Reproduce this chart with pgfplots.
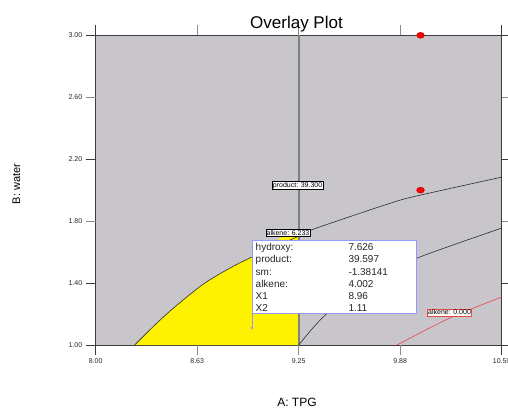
\documentclass[border=0pt]{standalone}
\usepackage{pgfplots}
\pgfplotsset{compat=1.18}
\usepackage{fontspec}
\setmainfont{Liberation Sans}
\definecolor{bg}{RGB}{200,198,202}
\definecolor{frame}{RGB}{60,60,60}
\definecolor{cont}{RGB}{45,45,45}
\definecolor{prodline}{RGB}{128,128,128}
\definecolor{redc}{RGB}{235,70,70}
\definecolor{tipb}{RGB}{150,150,255}
\begin{document}
\begin{tikzpicture}[x=1pt,y=1pt]
\useasboundingbox (0pt,0pt) rectangle (508pt,408pt);
\begin{axis}[at={(95.7pt,63pt)}, anchor=south west, scale only axis,
  width=406pt, height=309.7pt,
  xmin=8, xmax=10.5, ymin=1, ymax=3,
  axis background/.style={fill=bg},
  axis line style={frame, line width=0.7pt},
  xtick={8,10.5},
  xticklabels={8.00,10.50},
  ytick={1,1.4,2.2,3},
  yticklabels={1.00,1.40,2.20,3.00},
  extra x ticks={8.625,9.25,9.875},
  extra x tick labels={8.63,9.25,9.88},
  extra y ticks={1.8,2.6},
  extra y tick labels={1.80,2.60},
  extra tick style={major tick style={black!45, line width=1.1pt}},
  tick align=outside, major tick length=10pt,
  tick style={frame, line width=0.7pt},
  /pgf/number format/assume math mode=true,
  ticklabel style={font=\fontsize{7}{8}\selectfont, text=black!85},
  clip mode=individual,
]
% feasible (yellow) region
\addplot[fill=yellow, draw=none, smooth] coordinates {(8.24,1) (8.353,1.118) (8.476,1.236) (8.661,1.392) (8.827,1.497) (8.962,1.568) (9.25,1.703) (9.25,1)} -- cycle;
% product contour (vertical)
\addplot[prodline, line width=1.6pt] coordinates {(9.25,1) (9.25,3)};
% alkene 6.233 contour
\addplot[cont, line width=0.6pt, smooth] coordinates {(8.24,1) (8.353,1.118) (8.476,1.236) (8.661,1.392) (8.827,1.497) (8.962,1.568) (9.25,1.703) (9.332,1.745) (9.812,1.915) (9.991,1.966) (10.5,2.084)};
% alkene 4.002 contour
\addplot[cont, line width=0.6pt, smooth] coordinates {(9.25,1.0) (9.40,1.18) (9.65,1.40) (9.978,1.561) (10.5,1.755)};
% alkene 0.000 contour
\addplot[redc, line width=0.6pt, smooth] coordinates {(9.855,1.0) (10.18,1.174) (10.5,1.31)};
% design points
\addplot[only marks, mark=*, mark size=3pt, mark options={xscale=1.3, fill=red, draw=red!70!black, line width=0.4pt}] coordinates {(10,3) (10,2)};
% flag point
\addplot[only marks, mark=*, mark size=1pt, mark options={fill=tipb, draw=tipb}] coordinates {(8.96,1.11)};
% contour labels
\node[draw=black, fill=white, font=\fontsize{7}{8}\selectfont, inner sep=0.8pt, line width=0.4pt] at (axis cs:9.243,2.032) {product: 39.300};
\node[draw=black, fill=white, font=\fontsize{7}{8}\selectfont, inner sep=0.8pt, line width=0.4pt] at (axis cs:9.184,1.723) {alkene: 6.233};
\node[draw=redc, fill=white, font=\fontsize{7}{8}\selectfont, inner sep=0.8pt, line width=0.5pt] at (axis cs:10.179,1.21) {alkene: 0.000};
\end{axis}
% tooltip
\draw[tipb, line width=0.6pt] (252pt,95pt) -- (252pt,80pt);
\draw[tipb, fill=white, line width=0.7pt] (252pt,95pt) rectangle (416pt,168pt);
\begin{scope}[every node/.style={font=\fontsize{10}{12}\selectfont, inner sep=0pt, text=black!85}]
\node[anchor=base west] at (255.5pt,157.3pt) {hydroxy:};
\node[anchor=base west] at (255.5pt,145.1pt) {product:};
\node[anchor=base west] at (255.5pt,132.9pt) {sm:};
\node[anchor=base west] at (255.5pt,120.7pt) {alkene:};
\node[anchor=base west] at (255.5pt,108.5pt) {X1};
\node[anchor=base west] at (255.5pt,96.6pt) {X2};
\node[anchor=base west] at (348.3pt,157.3pt) {7.626};
\node[anchor=base west] at (348.3pt,145.1pt) {39.597};
\node[anchor=base west] at (348.3pt,132.9pt) {-1.38141};
\node[anchor=base west] at (348.3pt,120.7pt) {4.002};
\node[anchor=base west] at (348.3pt,108.5pt) {8.96};
\node[anchor=base west] at (348.3pt,96.6pt) {1.11};
\end{scope}
% titles
\node[anchor=base, font=\fontsize{17}{20}\selectfont, inner sep=0pt] at (296.5pt,379.8pt) {Overlay Plot};
\node[anchor=base, font=\fontsize{12}{14}\selectfont, inner sep=0pt] at (297pt,1.2pt) {A: TPG};
\node[rotate=90, font=\fontsize{11}{13}\selectfont, inner sep=0pt] at (16.5pt,224pt) {B: water};
\end{tikzpicture}
\end{document}
